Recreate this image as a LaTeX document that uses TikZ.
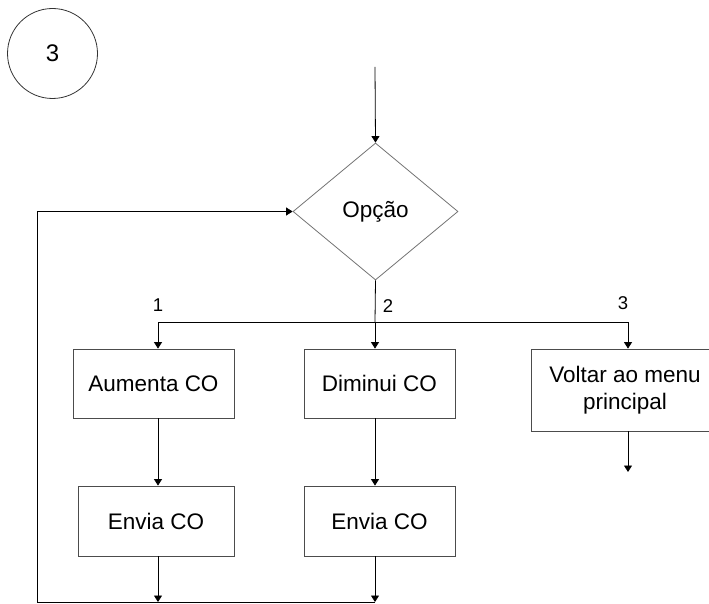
\documentclass[tikz,border=0pt]{standalone}
\usepackage{fontspec}
\setmainfont{Liberation Sans}
\usetikzlibrary{arrows.meta,shapes.geometric}
\begin{document}
\begin{tikzpicture}[x=1pt,y=-1pt,
  line width=0.8pt,
  arr/.style={-{Triangle[width=8pt,length=6.5pt]}},
  procbox/.style={draw=black!70, rectangle, inner sep=2pt, align=center,
    font=\fontsize{22.5}{27}\selectfont},
  lbl/.style={font=\fontsize{18.5}{22}\selectfont, inner sep=0pt}]
\useasboundingbox (0,0) rectangle (709,604);
\clip (0,0) rectangle (709,604);

% page marker
\node[draw=black!80, circle, minimum size=90pt, inner sep=0pt,
  font=\fontsize{24}{28}\selectfont] (pg) at (52.5,53.5) {3};

% decision
\node[draw=black!55, diamond, minimum width=165pt, minimum height=137pt,
  inner sep=0pt, font=\fontsize{22.5}{27}\selectfont] (opc) at (375.5,211.5) {Opção};

% process boxes
\node[procbox, minimum width=161pt, minimum height=69pt] (aum) at (153.5,383.5) {Aumenta CO};
\node[procbox, minimum width=151pt, minimum height=69pt] (dim) at (379.5,383.5) {Diminui CO};
\node[procbox, minimum width=188pt, minimum height=82pt] (volt) at (625,390) {Voltar ao menu\\principal};
\node[procbox, minimum width=156pt, minimum height=70pt] (env1) at (156,521) {Envia CO};
\node[procbox, minimum width=151pt, minimum height=70pt] (env2) at (379.5,521) {Envia CO};

% connector points
\coordinate (start) at (375,67);
\coordinate (j) at (375,322);
\coordinate (b1) at (158,322);
\coordinate (b3) at (628,322);
\coordinate (exit) at (628,472);
\coordinate (lb) at (37,602);

% entry and branching
\draw[arr] (start) -- (opc.north);
\draw (opc.south) -- (j);
\draw (b1) -- (b3);
\draw[arr] (b1) -- (b1 |- aum.north);
\draw[arr] (j) -- (j |- dim.north);
\draw[arr] (b3) -- (b3 |- volt.north);

% branch labels
\node[lbl] (l1) at (158,305) {1};
\node[lbl] (l2) at (388,306) {2};
\node[lbl] (l3) at (623,303) {3};

% sequences
\draw[arr] (b1 |- aum.south) -- (b1 |- env1.north);
\draw[arr] (j |- dim.south) -- (j |- env2.north);
\draw[arr] (b3 |- volt.south) -- (exit);

% return loop
\draw[arr] (b1 |- env1.south) -- (b1 |- lb);
\draw[arr] (j |- env2.south) -- (j |- lb);
\draw[arr] (j |- lb) -- (lb) |- (opc.west);
\end{tikzpicture}
\end{document}
